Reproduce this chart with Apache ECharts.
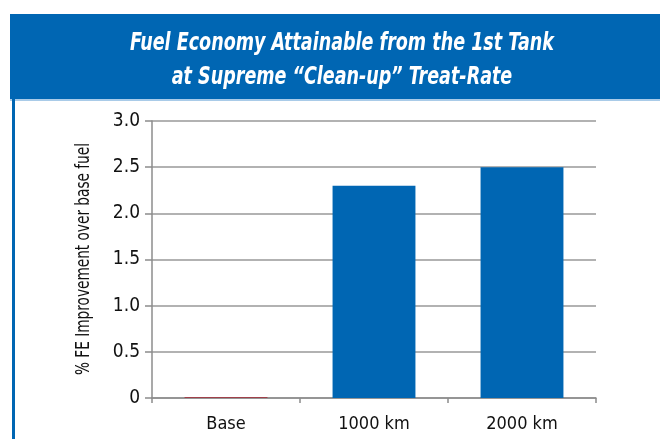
<!DOCTYPE html>
<html>
<head>
<meta charset="utf-8">
<script src="https://cdn.jsdelivr.net/npm/echarts@6/dist/echarts.min.js"></script>
<style>
  html, body { margin: 0; padding: 0; background: #fff; }
  #chart { width: 660px; height: 439px; }
</style>
</head>
<body>
<div id="chart"></div>
<script>
// chart data
const categories = ["Base", "1000 km", "2000 km"];
const improvement = [0.01, 2.3, 2.5];
const yTicks = ["0", "0.5", "1.0", "1.5", "2.0", "2.5", "3.0"];
const yName = "% FE Improvement over base fuel";
const titleLines = [
  "Fuel Economy Attainable from the 1st Tank",
  "at Supreme \u201cClean-up\u201d Treat-Rate"
];

const NARROW = "'Liberation Sans Narrow', 'DejaVu Sans Condensed', sans-serif";
const BLUE = "#0066b3";

var myChart = echarts.init(document.getElementById("chart"));

// title lines, squeezed a bit to look like a condensed face
const titleText = titleLines.map((t, i) => ({
  type: "text",
  x: 342,
  y: 43 + i * 34,
  scaleX: 0.78,
  z: 2,
  style: {
    text: t,
    fill: "#fff",
    font: "italic bold 25px " + NARROW,
    textAlign: "center",
    textVerticalAlign: "middle"
  }
}));

// rotated y axis name, also condensed
const yNameText = {
  type: "text",
  x: 84,
  y: 259,
  rotation: Math.PI / 2,
  scaleX: 0.8,
  z: 2,
  style: {
    text: yName,
    fill: "#111",
    font: "19px " + NARROW,
    textAlign: "center",
    textVerticalAlign: "middle"
  }
};

let option = {
  animation: false,
  backgroundColor: "#fff",
  graphic: [
    // blue header band
    { type: "rect", shape: { x: 10, y: 14, width: 650, height: 85 }, style: { fill: BLUE }, z: 0 },
    { type: "rect", shape: { x: 10, y: 99, width: 650, height: 2 }, style: { fill: "#a9cbe8" }, z: 0 },
    // left border of the panel
    { type: "rect", shape: { x: 12, y: 99, width: 3, height: 340 }, style: { fill: BLUE }, z: 0 },
    yNameText
  ].concat(titleText),
  grid: {
    left: 152,
    right: 64,
    top: 121,
    bottom: 41
  },
  xAxis: {
    type: "category",
    data: categories,
    axisLine: { lineStyle: { color: "#8c8c8c", width: 1.5 } },
    axisTick: { show: true, length: 5, lineStyle: { color: "#8c8c8c", width: 1.5 } },
    axisLabel: {
      color: "#111",
      fontFamily: NARROW,
      fontSize: 18,
      margin: 17
    }
  },
  yAxis: {
    type: "value",
    min: 0,
    max: 3,
    interval: 0.5,
    axisLine: { show: true, lineStyle: { color: "#8c8c8c", width: 1.5 } },
    axisTick: { show: true, length: 7, lineStyle: { color: "#8c8c8c", width: 1.5 } },
    splitLine: { lineStyle: { color: "#999", width: 1.5 } },
    axisLabel: {
      color: "#111",
      fontFamily: NARROW,
      fontSize: 19,
      margin: 12,
      formatter: (v) => yTicks[Math.round(v / 0.5)]
    }
  },
  series: [
    {
      type: "bar",
      data: improvement.map((v, i) => ({
        value: v,
        itemStyle: { color: i === 0 ? "#a0404a" : BLUE }
      })),
      barCategoryGap: "44%"
    }
  ]
};
myChart.setOption(option);
</script>
</body>
</html>
